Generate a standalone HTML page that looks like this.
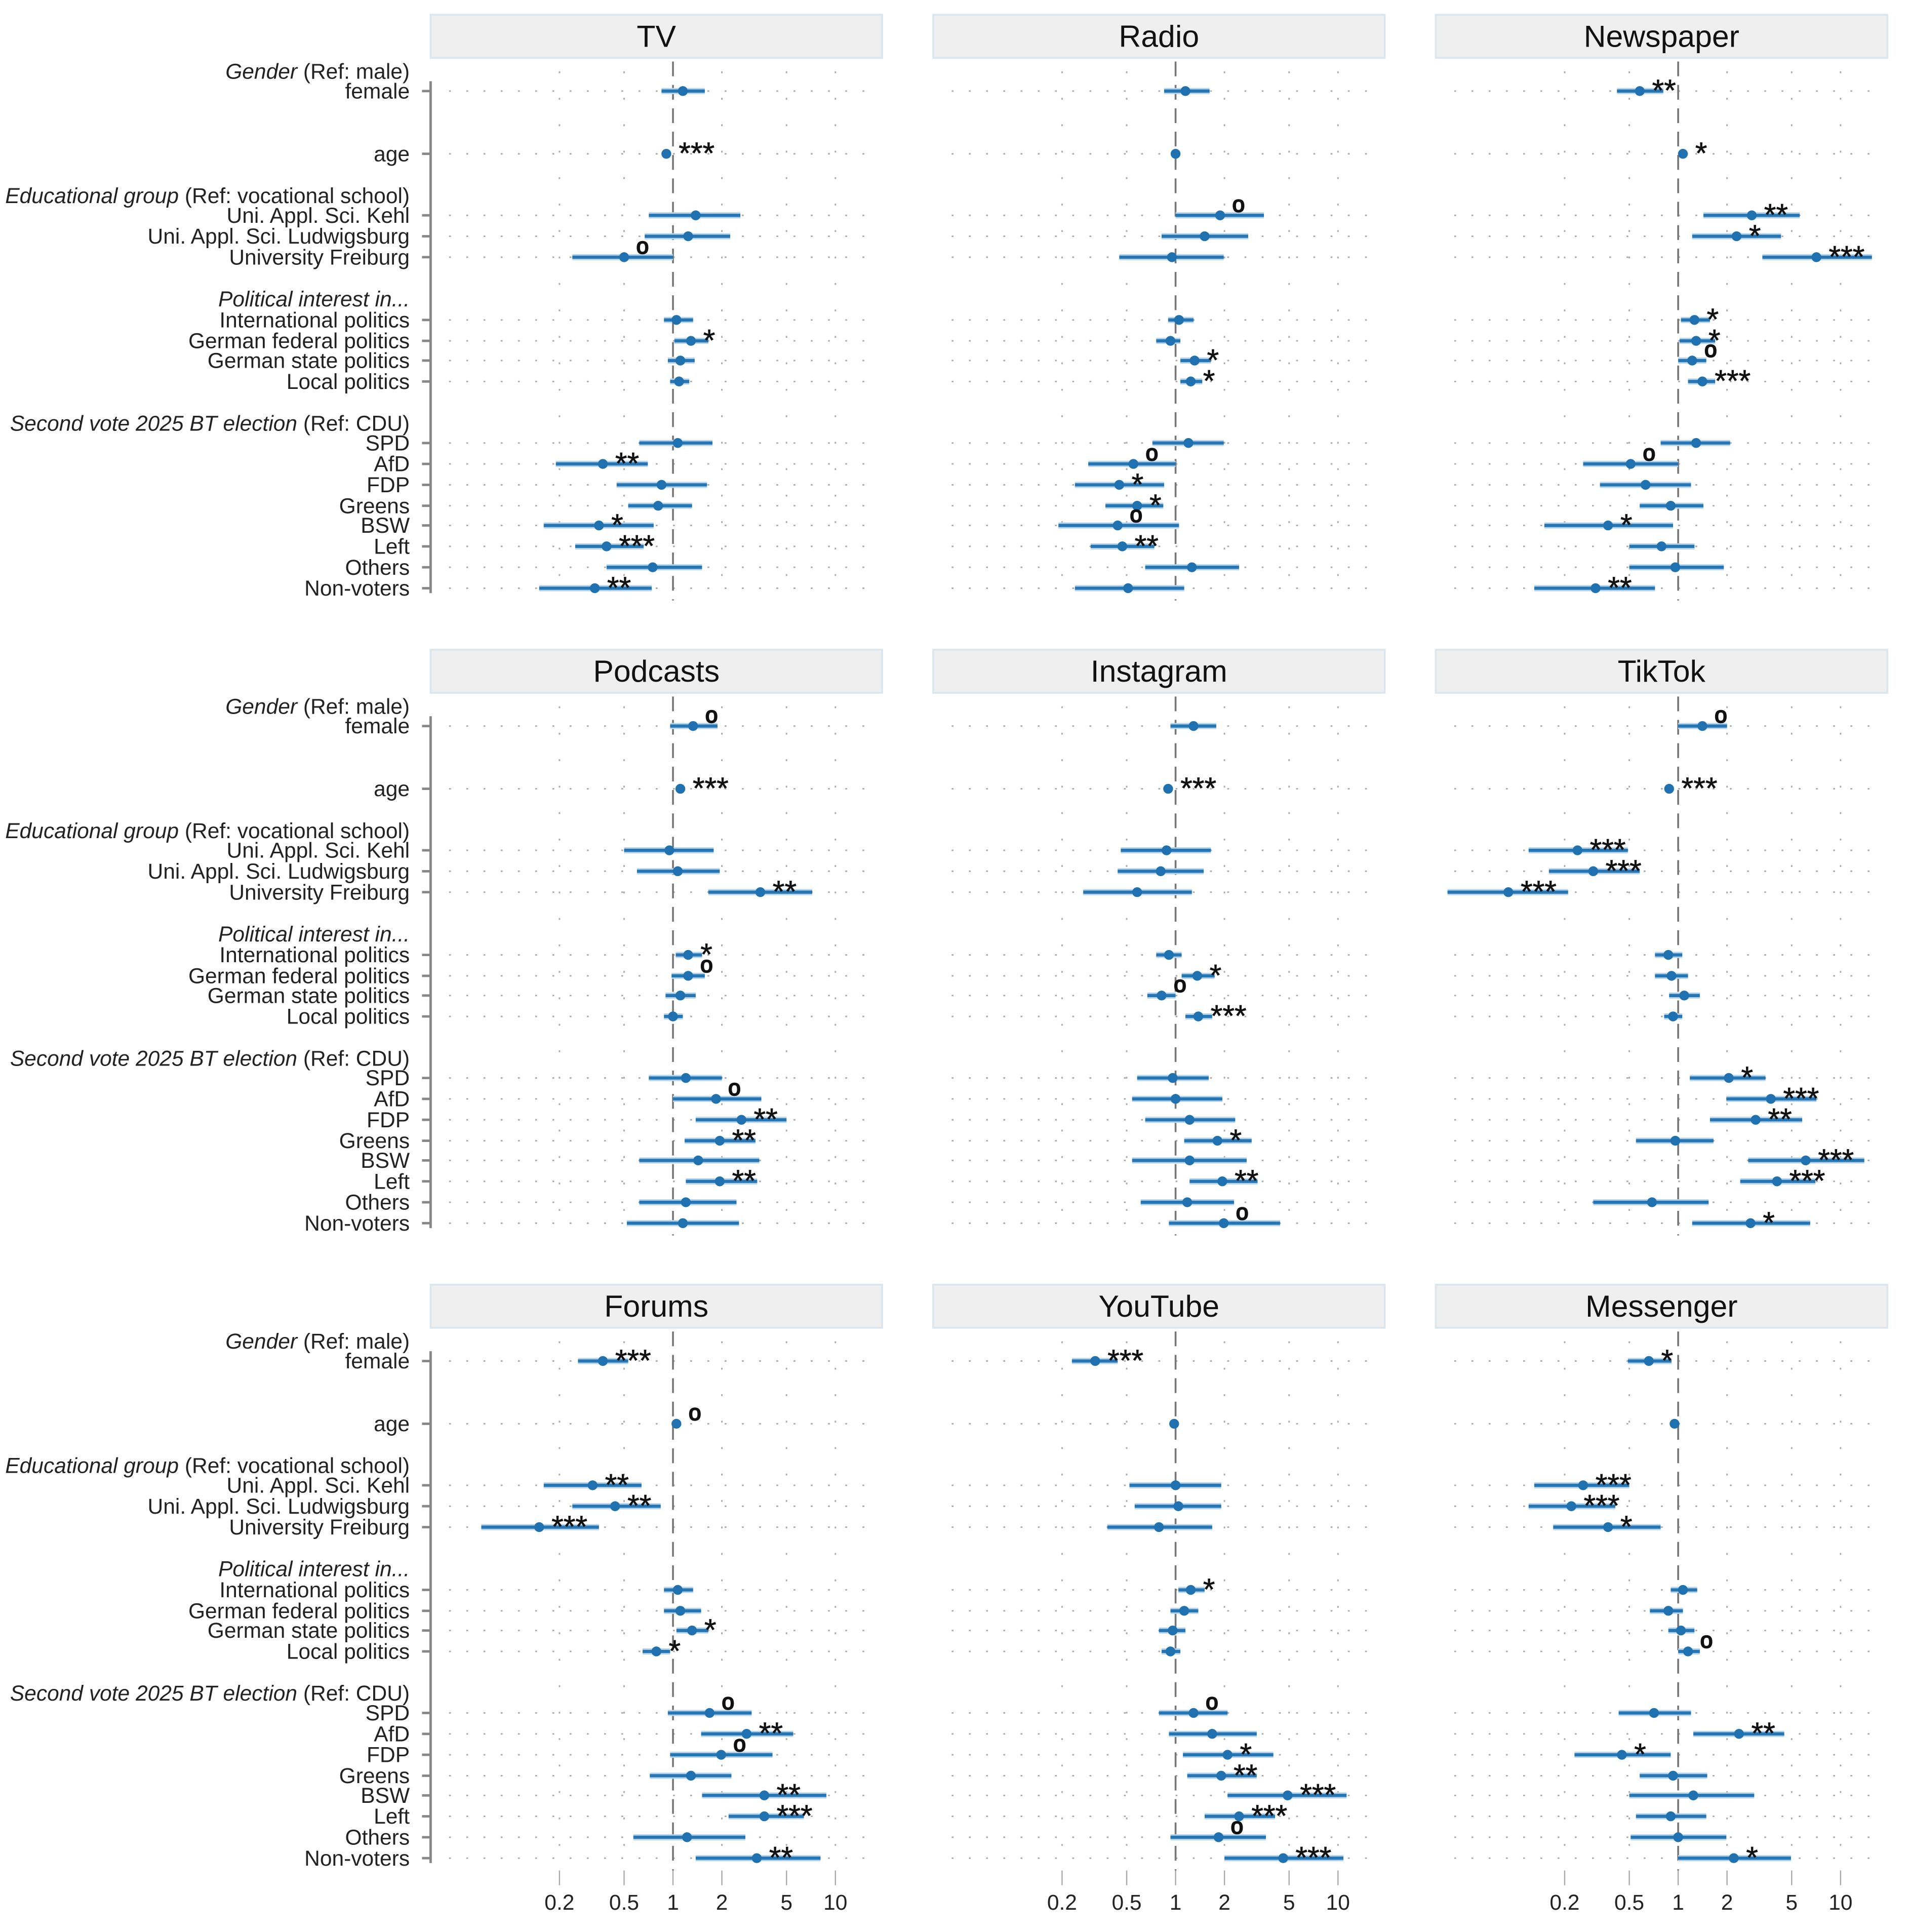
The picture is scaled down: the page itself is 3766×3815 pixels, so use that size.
<!DOCTYPE html>
<html><head><meta charset="utf-8"><style>
html,body{margin:0;padding:0;background:#fff}
svg{display:block}
text{font-family:"Liberation Sans",sans-serif}
</style></head><body>
<svg id="chart" width="3766" height="3815" viewBox="0 0 1550 1570" preserveAspectRatio="none" xmlns="http://www.w3.org/2000/svg"></svg>
<script>
const rowLabels=["female","age","Uni. Appl. Sci. Kehl","Uni. Appl. Sci. Ludwigsburg","University Freiburg","International politics","German federal politics","German state politics","Local politics","SPD","AfD","FDP","Greens","BSW","Left","Others","Non-voters"];
const panelTitles=["TV","Radio","Newspaper","Podcasts","Instagram","TikTok","Forums","YouTube","Messenger"];
const tickValues=[0.2,0.5,1,2,5,10];
const tickLabels=["0.2","0.5","1","2","5","10"];

const est_TV=[1.15,0.91,1.38,1.24,0.5,1.05,1.29,1.11,1.09,1.07,0.37,0.85,0.81,0.35,0.39,0.75,0.33];
const lo_TV=[0.85,0.89,0.71,0.67,0.24,0.88,1.02,0.93,0.96,0.62,0.19,0.45,0.53,0.16,0.25,0.39,0.15];
const hi_TV=[1.57,0.93,2.6,2.25,1.0,1.33,1.65,1.36,1.26,1.75,0.70,1.62,1.31,0.76,0.66,1.51,0.74];
const sig_TV=["","***","","","o","","*","","","","**","","","*","***","","**"];

const est_Radio=[1.15,1.0,1.88,1.51,0.95,1.05,0.93,1.31,1.24,1.2,0.55,0.45,0.58,0.44,0.47,1.26,0.51];
const lo_Radio=[0.85,0.98,1.0,0.82,0.45,0.90,0.76,1.07,1.07,0.72,0.29,0.24,0.37,0.19,0.30,0.65,0.24];
const hi_Radio=[1.62,1.02,3.5,2.8,1.98,1.29,1.07,1.65,1.46,1.98,1.0,0.85,0.84,1.05,0.74,2.46,1.13];
const sig_Radio=["","","o","","","","","*","*","","o","*","*","o","**","",""];

const est_News=[0.58,1.07,2.84,2.29,7.1,1.26,1.29,1.22,1.41,1.29,0.51,0.63,0.90,0.37,0.79,0.96,0.31];
const lo_News=[0.42,1.05,1.43,1.22,3.3,1.04,1.02,1.0,1.15,0.78,0.26,0.33,0.58,0.15,0.50,0.50,0.13];
const hi_News=[0.81,1.09,5.6,4.3,15.6,1.57,1.69,1.49,1.69,2.09,1.0,1.2,1.43,0.93,1.26,1.91,0.72];
const sig_News=["**","*","**","*","***","*","*","o","***","","o","","","*","","","**"];

const est_Pod=[1.33,1.11,0.95,1.07,3.45,1.24,1.24,1.11,1.0,1.2,1.84,2.64,1.94,1.43,1.94,1.2,1.15];
const lo_Pod=[0.96,1.09,0.50,0.60,1.65,1.04,0.98,0.90,0.88,0.71,1.0,1.38,1.18,0.62,1.2,0.62,0.52];
const hi_Pod=[1.88,1.13,1.78,1.94,7.2,1.51,1.57,1.38,1.15,2.0,3.5,5.0,3.22,3.4,3.3,2.46,2.55];
const sig_Pod=["o","***","","","**","*","o","","","","o","**","**","","**","",""];

const est_Insta=[1.29,0.90,0.88,0.81,0.58,0.91,1.36,0.82,1.38,0.96,1.0,1.22,1.81,1.22,1.94,1.18,1.98];
const lo_Insta=[0.93,0.88,0.46,0.44,0.27,0.76,1.09,0.67,1.15,0.58,0.54,0.65,1.13,0.54,1.22,0.61,0.91];
const hi_Insta=[1.78,0.92,1.65,1.49,1.26,1.09,1.74,1.0,1.68,1.6,1.94,2.33,2.94,2.74,3.2,2.29,4.4];
const sig_Insta=["","***","","","","","*","o","***","","","","*","","**","","o"];

const est_Tik=[1.41,0.88,0.24,0.30,0.09,0.87,0.91,1.09,0.93,2.05,3.72,3.0,0.96,6.1,4.06,0.69,2.79];
const lo_Tik=[1.0,0.86,0.12,0.16,0.038,0.72,0.72,0.88,0.82,1.18,1.98,1.57,0.55,2.7,2.41,0.30,1.22];
const hi_Tik=[2.0,0.90,0.49,0.58,0.21,1.06,1.15,1.36,1.06,3.45,7.1,5.8,1.65,14,7.0,1.54,6.5];
const sig_Tik=["o","***","***","***","***","","","","","*","***","**","","***","***","","*"];

const est_Forum=[0.37,1.05,0.32,0.44,0.15,1.07,1.11,1.31,0.79,1.68,2.84,1.98,1.29,3.65,3.65,1.22,3.28];
const lo_Forum=[0.26,1.03,0.16,0.24,0.066,0.88,0.88,1.05,0.65,0.93,1.49,0.96,0.72,1.51,2.2,0.57,1.38];
const hi_Forum=[0.53,1.07,0.64,0.84,0.35,1.33,1.49,1.65,0.96,3.05,5.5,4.1,2.29,8.8,6.4,2.79,8.1];
const sig_Forum=["***","o","**","**","***","","","*","*","o","**","o","","**","***","","**"];

const est_YT=[0.32,0.98,1.0,1.04,0.79,1.24,1.13,0.96,0.93,1.29,1.68,2.09,1.91,4.9,2.46,1.84,4.6];
const lo_YT=[0.23,0.96,0.52,0.56,0.38,1.04,0.93,0.79,0.82,0.79,0.91,1.11,1.18,2.09,1.51,0.93,2.0];
const hi_YT=[0.44,1.0,1.91,1.91,1.68,1.51,1.38,1.15,1.07,2.09,3.16,4.0,3.16,11.3,4.1,3.6,10.8];
const sig_YT=["***","","","","","*","","","","o","","*","**","***","***","o","***"];

const est_Msg=[0.66,0.95,0.26,0.22,0.37,1.07,0.87,1.04,1.15,0.71,2.37,0.45,0.93,1.24,0.90,1.0,2.2];
const lo_Msg=[0.49,0.93,0.13,0.12,0.17,0.90,0.67,0.87,1.0,0.43,1.24,0.23,0.58,0.50,0.55,0.51,1.0];
const hi_Msg=[0.91,0.97,0.50,0.41,0.78,1.31,1.07,1.26,1.36,1.2,4.5,0.9,1.51,2.94,1.49,1.98,4.95];
const sig_Msg=["*","","***","***","*","","","","o","","**","*","","","","","*"];

const panelEst=[est_TV,est_Radio,est_News,est_Pod,est_Insta,est_Tik,est_Forum,est_YT,est_Msg];
const panelLo=[lo_TV,lo_Radio,lo_News,lo_Pod,lo_Insta,lo_Tik,lo_Forum,lo_YT,lo_Msg];
const panelHi=[hi_TV,hi_Radio,hi_News,hi_Pod,hi_Insta,hi_Tik,hi_Forum,hi_YT,hi_Msg];
const panelSig=[sig_TV,sig_Radio,sig_News,sig_Pod,sig_Insta,sig_Tik,sig_Forum,sig_YT,sig_Msg];

const NS="http://www.w3.org/2000/svg";
const svg=document.getElementById('chart');
function mk(tag,attrs,parent){const e=document.createElementNS(NS,tag);for(const k in attrs)e.setAttribute(k,attrs[k]);(parent||svg).appendChild(e);return e;}
const rowY=[74,125,175,192,209,260,277,293,310,360,377,394,411,427,444,461,478];
const headers=[[58,"Gender"," (Ref: male)"],[159,"Educational group"," (Ref: vocational school)"],[243,"Political interest in...",""],[344,"Second vote 2025 BT election"," (Ref: CDU)"]];
const K=132;
for(let p=0;p<9;p++){
  const col=p%3,row=Math.floor(p/3);
  const ox=col*408.5, oy=row*516;
  const x1=547+ox;
  const xs=v=>x1+Math.log10(v)*K;
  const g=mk('g',{});
  
  
  const strip=mk('rect',{x:350+ox,y:12+oy,width:367,height:35,fill:'#efefef',stroke:'#dbe6ee','stroke-width':1.5},g);
  
  
  const tt=mk('text',{x:533.5+ox,y:38+oy,'text-anchor':'middle','font-size':25,fill:'#111'},g);
  tt.textContent=panelTitles[p];
  
  
  tickValues.forEach(v=>{
    if(v===1)return;
    const gl=mk('line',{x1:xs(v),x2:xs(v),y1:58+oy,y2:488+oy,stroke:'#aaa','stroke-width':1.2,'stroke-dasharray':'1.5 20'},g);
    
    
  });
  rowY.forEach(y=>{
    const rl=mk('line',{x1:365+ox,x2:712+ox,y1:y+oy,y2:y+oy,stroke:'#aaa','stroke-width':1.2,'stroke-dasharray':'1.5 12.5'},g);
    
    
  });
  const ref=mk('line',{x1:x1,x2:x1,y1:50+oy,y2:488+oy,stroke:'#777','stroke-width':1.5,'stroke-dasharray':'12 7'},g);
  
  
  if(col===0){
    const ax=mk('line',{x1:350+ox,x2:350+ox,y1:66+oy,y2:482+oy,stroke:'#888','stroke-width':2},g);
    
    
    rowY.forEach((y,i)=>{
      const t=mk('line',{x1:343+ox,x2:350+ox,y1:y+oy,y2:y+oy,stroke:'#888','stroke-width':2},g);
      
      
      const lb=mk('text',{x:333+ox,y:y+oy+6,'text-anchor':'end','font-size':17.5,fill:'#222'},g);
      lb.textContent=rowLabels[i];
      
      
    });
    headers.forEach(h=>{
      const ht=mk('text',{x:333+ox,y:h[0]+oy+6,'text-anchor':'end','font-size':17.5,fill:'#222'},g);
      const a=mk('tspan',{'font-style':'italic'},ht);a.textContent=h[1];
      if(h[2]){const b=mk('tspan',{},ht);b.textContent=h[2];}
      
      
    });
  }
  const E=panelEst[p],L=panelLo[p],H=panelHi[p],S=panelSig[p];
  E.forEach((v,i)=>{
    const y=rowY[i]+oy;
    const halo=mk('line',{x1:xs(L[i]),x2:xs(H[i]),y1:y,y2:y,stroke:'#b7d3ea','stroke-width':5},g);
    
    
    const ci=mk('line',{x1:xs(L[i]),x2:xs(H[i]),y1:y,y2:y,stroke:'#2576b5','stroke-width':2.6},g);
    
    
    const pt=mk('circle',{cx:xs(v),cy:y,r:4,fill:'#1f71b0'},g);
    
    
    if(S[i]){
      const st=mk('text',{x:xs(v)+10,y:y+(S[i]==='o'?-3:8),'font-size':S[i]==='o'?18:25,fill:'#111','stroke':'#111','stroke-width':S[i]==='o'?1:0.3},g);
      st.textContent=S[i];
      
      
    }
  });
  if(row===2){
    tickValues.forEach((v,j)=>{
      const tk=mk('line',{x1:xs(v),x2:xs(v),y1:1520,y2:1532,stroke:'#aaa','stroke-width':1},g);
      
      
      const tl=mk('text',{x:xs(v),y:1552,'text-anchor':'middle','font-size':17.5,fill:'#222'},g);
      tl.textContent=tickLabels[j];
      
      
    });
  }
}
</script>
</body></html>
